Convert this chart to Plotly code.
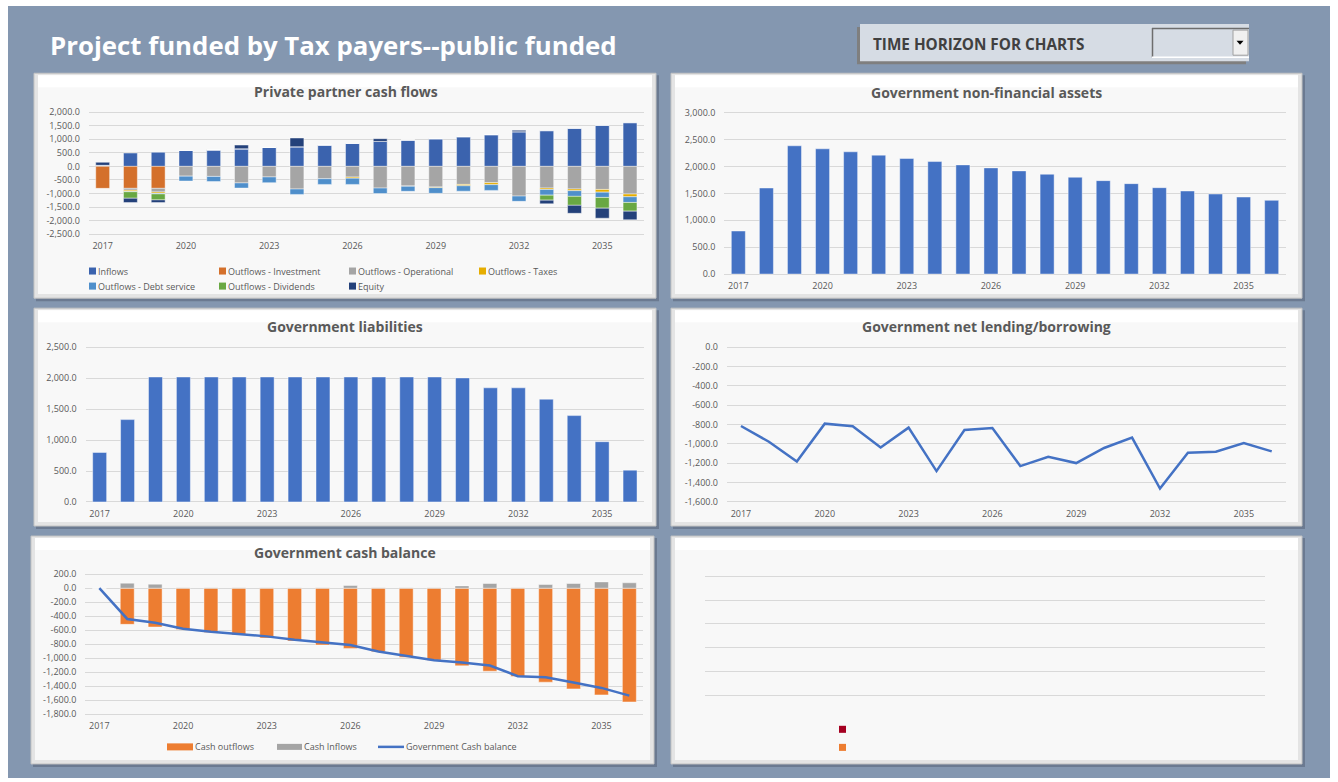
import plotly.graph_objects as go

W, H = 1338, 782

years = list(range(2017, 2037))
year_ticks = [2017, 2020, 2023, 2026, 2029, 2032, 2035]

# ---- Private partner cash flows (stacked columns) ----
pp_names = ["Inflows", "Outflows - Investment", "Outflows - Operational", "Outflows - Taxes",
            "Outflows - Debt service", "Outflows - Dividends", "Equity"]
pp_colors = ["#3b63ae", "#d4702b", "#a5a5a5", "#e6ad00", "#4f8fcb", "#69a843", "#24417a"]
pp_inflows = [40, 490, 520, 590, 610, 650, 700, 725, 790, 850,
              920, 970, 1020, 1095, 1170, 1280, 1315, 1400, 1510, 1610]
pp_investment = [-810, -810, -810, 0, 0, 0, 0, 0, 0, 0,
                 0, 0, 0, 0, 0, 0, 0, 0, 0, 0]
pp_operational = [0, -70, -135, -360, -370, -610, -390, -835, -455, -395,
                  -800, -725, -760, -665, -600, -1095, -800, -835, -850, -1020]
pp_taxes = [0, -45, -50, 0, 0, 0, 0, 0, 0, -40,
            0, -10, -25, -50, -75, 0, -50, -60, -100, -100]
pp_debt = [0, -10, -20, -180, -190, -190, -210, -200, -210, -230,
           -200, -185, -210, -200, -210, -195, -210, -210, -195, -210]
pp_dividends = [0, -240, -220, 0, 0, 0, 0, 0, 0, 0,
                0, 0, 0, 0, 0, 0, -185, -330, -395, -320]
pp_equity = [110, -160, -100, 0, 0, 135, 0, 320, 0, 0,
             100, 0, 0, 0, 0, 50, -135, -295, -370, -320]
pp_values = [pp_inflows, pp_investment, pp_operational, pp_taxes, pp_debt, pp_dividends, pp_equity]
pp_yticks = [2000, 1500, 1000, 500, 0, -500, -1000, -1500, -2000, -2500]

# ---- Government non-financial assets ----
nfa_values = [800, 1600, 2385, 2329, 2273, 2211, 2148, 2092, 2030, 1974,
              1918, 1856, 1800, 1737, 1681, 1606, 1544, 1488, 1432, 1370]
nfa_yticks = [0, 500, 1000, 1500, 2000, 2500, 3000]

# ---- Government liabilities ----
liab_values = [800, 1331, 2020, 2020, 2020, 2020, 2020, 2020, 2020, 2020,
               2020, 2020, 2020, 2005, 1845, 1845, 1661, 1396, 974, 514]
liab_yticks = [0, 500, 1000, 1500, 2000, 2500]

# ---- Government net lending/borrowing ----
nlb_values = [-814, -977, -1181, -790, -817, -1036, -831, -1281, -855, -835,
              -1229, -1132, -1198, -1042, -935, -1461, -1091, -1081, -990, -1077]
nlb_yticks = [0, -200, -400, -600, -800, -1000, -1200, -1400, -1600]

# ---- Government cash balance ----
cb_names = ["Cash outflows", "Cash Inflows", "Government Cash balance"]
cb_outflows = [0, -517, -555, -589, -632, -670, -713, -756, -813, -861,
               -909, -986, -1029, -1110, -1187, -1263, -1344, -1440, -1526, -1627]
cb_inflows = [0, 72, 57, 8, 8, 8, 8, 8, 8, 38,
              8, 8, 8, 33, 67, 8, 53, 67, 90, 77]
cb_balance = [0, -440, -493, -579, -622, -655, -689, -737, -780, -813,
              -904, -967, -1029, -1062, -1105, -1258, -1273, -1349, -1426, -1536]
cb_yticks = [200, 0, -200, -400, -600, -800, -1000, -1200, -1400, -1600, -1800]

FONT = "Open Sans"
TXT = "#595959"
BLUE = "#4472c4"
ORANGE = "#ed7d31"
GRAY = "#a5a5a5"
SLATE = "#8497b0"

# Layout rows are given in screen pixels; the page shows the figure
# between rows 6 and 776, so rows are mapped onto that band.
ROW_TOP, ROW_SPAN = 6.0, 770.0


def px(x):
    return x / W


def py(y):
    return 1 - (y - ROW_TOP) / ROW_SPAN


fig = go.Figure()


def axis_pair(n, x0, x1, y_top, y_bot, yrange, yticks, show_x=True, show_y=True):
    """Place a subplot so the extreme ticks land on the given pixel rows."""
    sx = "" if n == 1 else str(n)
    lo, hi = yrange
    per_px = (hi - lo) / (y_bot - y_top)
    pad = 2.0
    xa = dict(domain=[px(x0), px(x1)], range=[2016.5, 2036.5], anchor="y" + sx,
              tickvals=year_ticks, ticktext=[str(t) for t in year_ticks],
              showticklabels=show_x, showgrid=False, zeroline=False, showline=False,
              ticks="", ticklabelstandoff=3, fixedrange=True,
              tickfont=dict(family=FONT, size=9, color=TXT))
    ya = dict(domain=[py(y_bot + pad), py(y_top - pad)],
              range=[lo - pad * per_px, hi + pad * per_px], anchor="x" + sx,
              tickvals=yticks, ticktext=[f"{v:,.1f}" for v in yticks],
              showticklabels=show_y, showgrid=True, gridcolor="#d9d9d9", gridwidth=1,
              zeroline=False, showline=False, ticks="", ticklabelstandoff=8, fixedrange=True,
              tickfont=dict(family=FONT, size=9, color=TXT))
    fig.layout["xaxis" + sx] = xa
    fig.layout["yaxis" + sx] = ya
    return "x" + sx, "y" + sx


BAR_EDGE = dict(color="rgba(255,255,255,0.55)", width=0.8)

# Chart 1: private partner cash flows
xa, ya = axis_pair(1, 88.8, 643.9, 112.7, 234.3, [-2500, 2000], pp_yticks)
for name, color, vals in zip(pp_names, pp_colors, pp_values):
    fig.add_trace(go.Bar(x=years, y=vals, name=name, xaxis=xa, yaxis=ya, showlegend=False,
                         marker=dict(color=color, line=BAR_EDGE)))

# Chart 2: non-financial assets
xa, ya = axis_pair(2, 724.3, 1285.7, 113.3, 274, [0, 3000], nfa_yticks)
fig.add_trace(go.Bar(x=years, y=nfa_values, name="Non-financial assets", xaxis=xa, yaxis=ya,
                     showlegend=False, marker=dict(color=BLUE, line=BAR_EDGE)))

# Chart 3: liabilities
xa, ya = axis_pair(3, 85.7, 644, 347, 501, [0, 2500], liab_yticks)
fig.add_trace(go.Bar(x=years, y=liab_values, name="Liabilities", xaxis=xa, yaxis=ya,
                     showlegend=False, marker=dict(color=BLUE, line=BAR_EDGE)))

# Chart 4: net lending / borrowing
xa, ya = axis_pair(4, 727, 1285.7, 347, 501, [-1600, 0], nlb_yticks)
fig.add_trace(go.Scatter(x=years, y=nlb_values, mode="lines", name="Net lending/borrowing",
                         xaxis=xa, yaxis=ya, showlegend=False,
                         line=dict(color=BLUE, width=2.5)))

# Chart 5: cash balance
xa, ya = axis_pair(5, 85.4, 643.3, 573, 712.3, [-1800, 200], cb_yticks)
fig.add_trace(go.Bar(x=years, y=cb_outflows, name=cb_names[0], xaxis=xa, yaxis=ya,
                     showlegend=False, marker=dict(color=ORANGE, line=BAR_EDGE)))
fig.add_trace(go.Bar(x=years, y=cb_inflows, name=cb_names[1], xaxis=xa, yaxis=ya,
                     showlegend=False, marker=dict(color=GRAY, line=BAR_EDGE)))
fig.add_trace(go.Scatter(x=years, y=cb_balance, mode="lines", name=cb_names[2],
                         xaxis=xa, yaxis=ya, showlegend=False,
                         line=dict(color=BLUE, width=2.5)))

# Chart 6: empty chart area (gridlines only)
xa, ya = axis_pair(6, 705, 1265, 575, 694, [0, 5], [0, 1, 2, 3, 4, 5], show_x=False, show_y=False)
fig.add_trace(go.Scatter(x=[2017], y=[None], mode="lines", xaxis=xa, yaxis=ya, showlegend=False))

shapes = []
annotations = []


def rect(x0, y0, x1, y1, fill, line=None, lw=0, layer="below"):
    shapes.append(dict(type="rect", xref="paper", yref="paper",
                       x0=px(x0), x1=px(x1), y0=py(y1), y1=py(y0),
                       fillcolor=fill, line=dict(color=line or "rgba(0,0,0,0)", width=lw),
                       layer=layer))


def seg(x0, y0, x1, y1, color, width=1, layer="below"):
    shapes.append(dict(type="line", xref="paper", yref="paper",
                       x0=px(x0), x1=px(x1), y0=py(y0), y1=py(y1),
                       line=dict(color=color, width=width), layer=layer))


def text(x, y, s, size=9, color=TXT, bold=False, xanchor="left", family=FONT):
    annotations.append(dict(xref="paper", yref="paper", x=px(x), y=py(y), text=s,
                            showarrow=False, xanchor=xanchor, yanchor="middle",
                            font=dict(family=family, size=size, color=color,
                                      weight="bold" if bold else "normal")))


# Dashboard background
rect(8, 7, 1330, 776, SLATE)

# Chart panels
panels = [(34, 74, 656, 298), (671, 74, 1302, 298), (34, 308, 656, 525),
          (671, 308, 1302, 525), (31, 535, 654, 762), (671, 535, 1302, 762)]
for x0, y0, x1, y1 in panels:
    rect(x0 + 2, y0 + 2, x1 + 3, y1 + 3, "rgba(60,70,90,0.35)")
    rect(x0, y0, x1, y1, "#e4e4e4", "#c4c4c4", 1)
    rect(x0 + 4, y0 + 2, x1 - 4, y1 - 4, "#f8f8f8")
    rect(x0 + 4, y0 + 2, x1 - 4, y0 + 14, "#ffffff")

# Page title
text(48, 46, "Project funded by Tax payers--public funded", size=25.8, color="#ffffff",
     bold=True)

# Time horizon selector
rect(857, 28, 1246, 65, "#7f7f7f")
rect(860, 25, 1249, 62, "#d6dce4")
text(871, 45, "TIME HORIZON FOR CHARTS", size=15.3, color="#404040", bold=True)
rect(1152, 29, 1249, 58, "#d6dce4")
seg(1152, 29.5, 1249, 29.5, "#6d6d6d", 1.5)
seg(1152.5, 29, 1152.5, 58, "#6d6d6d", 1.5)
seg(1152, 58, 1249, 58, "#ffffff", 1.5)
rect(1233, 31, 1248, 56, "#f0f0f0", "#a0a0a0", 1)
shapes.append(dict(type="path", xref="paper", yref="paper",
                   path=f"M {px(1236.5)} {py(41.5)} L {px(1243.5)} {py(41.5)} L {px(1240)} {py(45.5)} Z",
                   fillcolor="#000000", line=dict(width=0), layer="above"))

# Chart titles
text(346, 92, "Private partner cash flows", size=14, bold=True)
text(986, 93, "Government non-financial assets", size=14, bold=True)
text(345, 326, "Government liabilities", size=14, bold=True)
text(986, 326, "Government net lending/borrowing", size=14, bold=True)
text(345, 551, "Government cash balance", size=14, bold=True)
for a in annotations[-5:]:
    a["xanchor"] = "center"

# Legend for private partner cash flows
leg_pos = [(89, 271), (219, 271), (349, 271), (479, 271), (89, 286), (219, 286), (349, 286)]
for (lx, ly), name, color in zip(leg_pos, pp_names, pp_colors):
    rect(lx, ly - 3.5, lx + 7, ly + 3.5, color, layer="above")
    text(lx + 7, ly, name, size=9)

# Legend for cash balance
rect(167, 741.5, 193, 748.5, ORANGE, layer="above")
text(193, 745, cb_names[0], size=9)
rect(277, 742, 302, 748, GRAY, layer="above")
text(302, 745, cb_names[1], size=9)
seg(378, 745, 404, 745, BLUE, 2.5, layer="above")
text(404, 745, cb_names[2], size=9)

# Empty chart legend keys
rect(839, 724, 846, 731, "#a50021", layer="above")
rect(839, 742, 846, 749, ORANGE, layer="above")

fig.update_layout(
    width=W, height=H, margin=dict(l=0, r=0, t=0, b=0),
    paper_bgcolor="#ffffff", plot_bgcolor="rgba(0,0,0,0)",
    barmode="relative", bargap=0.5, showlegend=False,
    shapes=shapes, annotations=annotations,
    font=dict(family=FONT, size=9, color=TXT),
)

fig.write_html("out.html", config={"displayModeBar": False})
